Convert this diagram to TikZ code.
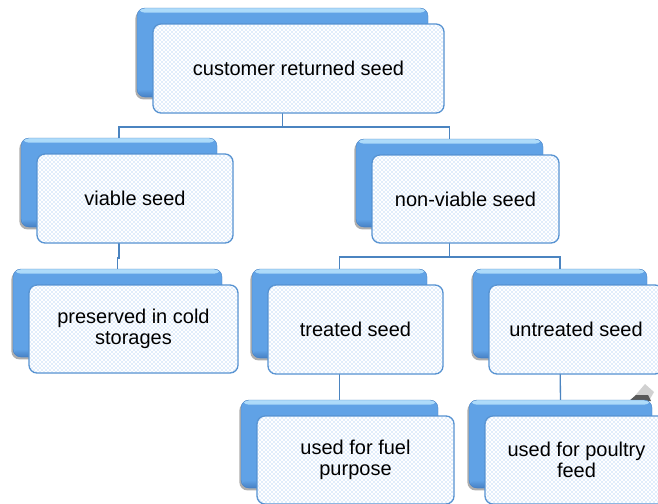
\documentclass[tikz,border=0pt]{standalone}
\usepackage{fontspec}
\setmainfont{Liberation Sans}
\usetikzlibrary{shadows,patterns}
\definecolor{lineblue}{RGB}{75,132,192}
\definecolor{frameblue}{RGB}{85,145,208}
\definecolor{boxtop}{RGB}{175,220,250}
\definecolor{boxmid}{RGB}{96,162,230}
\definecolor{boxbot}{RGB}{70,128,196}
\definecolor{dotblue}{RGB}{128,180,238}
\pgfdeclarelayer{bg}
\pgfsetlayers{bg,main}
\tikzset{
  backbox/.style={rectangle, rounded corners=6pt, fill=boxmid, draw=boxbot, line width=0.3pt,
    drop shadow={shadow xshift=-1.2pt, shadow yshift=-1.8pt, opacity=0.45, fill=black!70}, inner sep=0pt,
    path picture={
      \shade[top color=boxtop, bottom color=boxmid]
        (path picture bounding box.north west) rectangle ([yshift=-3.5pt]path picture bounding box.north east);
      \shade[top color=boxmid, bottom color=boxbot]
        ([yshift=6pt]path picture bounding box.south west) rectangle (path picture bounding box.south east);
    }},
  frontbox/.style={rectangle, rounded corners=6pt, draw=frameblue, line width=1pt,
    preaction={fill=white}, postaction={pattern=crosshatch dots, pattern color=dotblue},
    inner sep=0pt, align=center, font=\fontsize{15}{15.5}\selectfont, text=black},
  conn/.style={draw=lineblue, line width=1pt},
}
\newcommand\seedunit[6]{%
  \node[backbox, minimum width={(#4-#2)*0.75pt}, minimum height={(#5-#3)*0.75pt}]
    (b#1) at ({(#2+#4)/2},{(#3+#5)/2}) {};
  \node[frontbox, minimum width={(#4-#2)*0.75pt}, minimum height={(#5-#3)*0.75pt}]
    (f#1) at ({(#2+#4)/2+16},{(#3+#5)/2+16}) {#6};
}
\begin{document}
\begin{tikzpicture}[x=0.75pt,y=-0.75pt]
\useasboundingbox (0,0) rectangle (658,504);
\clip (0,0) rectangle (658,504);
\seedunit{top}{137}{8}{428}{97}{customer returned seed}
\seedunit{viable}{21}{138}{217}{227}{viable seed}
\seedunit{nonviable}{356}{139}{543}{227}{non-viable seed}
\seedunit{preserved}{13}{269}{222}{357}{preserved in cold\\storages}
\seedunit{treated}{252}{269}{427}{358}{treated seed}
\seedunit{untreated}{473}{269}{647}{358}{untreated seed}
\seedunit{fuel}{241}{400}{438}{488}{used for fuel\\purpose}
\seedunit{poultry}{469}{400}{652}{488}{used for poultry\\feed}
\begin{pgfonlayer}{bg}
  \fill[white] (0,0) rectangle (658,504);
  \coordinate (j1) at (282,127);
  \coordinate (j2) at (450,257);
  \coordinate (j3) at (118,258);
  \draw[conn] (btop.south) -- (btop.south |- j1) -| (bviable.north);
  \draw[conn] (btop.south |- j1) -| (bnonviable.north);
  \draw[conn] (bnonviable.south) -- (bnonviable.south |- j2) -| (btreated.north);
  \draw[conn] (bnonviable.south |- j2) -| (buntreated.north);
  \draw[conn] (bviable.south) -- (bviable.south |- j3) -| (bpreserved.north);
  \draw[conn] (btreated.south) -- (bfuel.north);
  \draw[conn] (buntreated.south) -- (bpoultry.north);
  \fill[black!18] (633,398) -- (645,384) -- (654,392) -- (650,399) -- cycle;
  \fill[black!65] (629,401) -- (636,395) -- (648,395) -- (651,401) -- cycle;
\end{pgfonlayer}
\end{tikzpicture}
\end{document}
